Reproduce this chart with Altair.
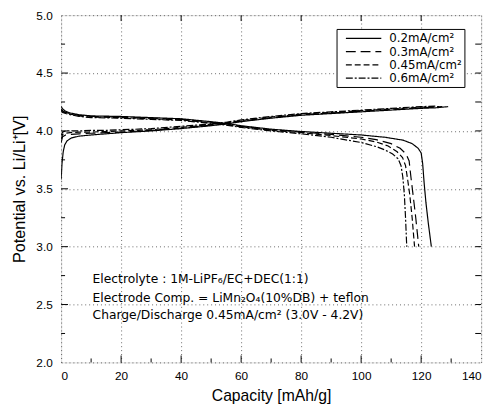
import altair as alt
import pandas as pd

# ---------------- data ----------------
rates = ["0.2mA/cm²", "0.3mA/cm²", "0.45mA/cm²", "0.6mA/cm²"]

chg_02_cap = [0, 0.3, 0.7, 1.2, 2, 3.5, 6, 10, 15, 20, 30, 40, 50, 55, 60, 70, 80, 90, 100, 110, 120, 125, 129]
chg_02_v = [3.58, 3.72, 3.82, 3.88, 3.915, 3.94, 3.955, 3.965, 3.975, 3.985, 4.0, 4.02, 4.045, 4.06, 4.08, 4.11, 4.135, 4.15, 4.165, 4.18, 4.195, 4.2, 4.21]

chg_03_cap = [0, 0.5, 1.5, 3, 6, 10, 15, 20, 30, 40, 50, 55, 60, 70, 80, 90, 100, 110, 120, 127]
chg_03_v = [3.9, 3.95, 3.965, 3.97, 3.975, 3.98, 3.985, 3.99, 4.005, 4.025, 4.05, 4.065, 4.085, 4.115, 4.14, 4.155, 4.17, 4.185, 4.2, 4.21]

chg_045_cap = [0, 0.5, 1.5, 3, 6, 10, 15, 20, 30, 40, 50, 55, 60, 70, 80, 90, 100, 110, 120, 126]
chg_045_v = [3.93, 3.97, 3.98, 3.985, 3.99, 3.99, 3.995, 4.0, 4.01, 4.03, 4.055, 4.07, 4.09, 4.12, 4.145, 4.16, 4.175, 4.19, 4.205, 4.21]

chg_06_cap = [0, 0.5, 1.5, 3, 6, 10, 15, 20, 30, 40, 50, 55, 60, 70, 80, 90, 100, 110, 120, 125]
chg_06_v = [3.96, 3.99, 4.0, 4.0, 4.0, 4.005, 4.005, 4.01, 4.02, 4.04, 4.06, 4.075, 4.095, 4.125, 4.15, 4.165, 4.18, 4.195, 4.21, 4.215]

dis_02_cap = [0, 0.5, 1.5, 3, 6, 10, 20, 30, 40, 50, 55, 60, 70, 80, 90, 100, 108, 114, 117, 119, 120, 120.5, 121, 121.6, 122.4, 123.4]
dis_02_v = [4.21, 4.19, 4.17, 4.155, 4.14, 4.13, 4.125, 4.115, 4.105, 4.08, 4.065, 4.045, 4.015, 3.995, 3.98, 3.965, 3.945, 3.92, 3.89, 3.85, 3.81, 3.72, 3.55, 3.38, 3.2, 3.0]

dis_03_cap = [0, 0.5, 1.5, 3, 6, 10, 20, 30, 40, 50, 55, 60, 70, 80, 90, 100, 105, 110, 113, 115, 116, 116.6, 117.3, 118.2, 119.2]
dis_03_v = [4.19, 4.175, 4.16, 4.15, 4.135, 4.125, 4.12, 4.11, 4.1, 4.075, 4.06, 4.04, 4.01, 3.99, 3.97, 3.945, 3.925, 3.89, 3.85, 3.8, 3.74, 3.6, 3.45, 3.25, 3.0]

dis_045_cap = [0, 0.5, 1.5, 3, 6, 10, 20, 30, 40, 50, 55, 60, 70, 80, 90, 100, 105, 109, 112, 113.8, 114.8, 115.5, 116.2, 117.0, 117.8]
dis_045_v = [4.18, 4.17, 4.155, 4.145, 4.13, 4.12, 4.115, 4.105, 4.095, 4.07, 4.055, 4.035, 4.005, 3.985, 3.96, 3.93, 3.905, 3.87, 3.82, 3.77, 3.7, 3.58, 3.45, 3.25, 3.0]

dis_06_cap = [0, 0.5, 1.5, 3, 6, 10, 20, 30, 40, 50, 55, 60, 70, 80, 90, 100, 105, 108, 110.5, 112.3, 113.3, 113.9, 114.4, 114.8, 115.2]
dis_06_v = [4.17, 4.16, 4.15, 4.14, 4.125, 4.115, 4.11, 4.1, 4.09, 4.065, 4.05, 4.03, 4.0, 3.975, 3.945, 3.9, 3.865, 3.835, 3.8, 3.76, 3.7, 3.6, 3.45, 3.25, 3.0]

x_labels = [0, 20, 40, 60, 80, 100, 120, 140]
y_labels = [2.0, 2.5, 3.0, 3.5, 4.0, 4.5, 5.0]
x_major_ticks = [20, 40, 60, 80, 100, 120]
x_minor_ticks = [10, 30, 50, 70, 90, 110, 130]
y_major_ticks = [2.5, 3.0, 3.5, 4.0, 4.5]
y_minor_ticks = [2.25, 2.75, 3.25, 3.75, 4.25, 4.75]

notes = [
    "Electrolyte : 1M-LiPF₆/EC+DEC(1:1)",
    "Electrode Comp. = LiMn₂O₄(10%DB) + teflon",
    "Charge/Discharge    0.45mA/cm² (3.0V - 4.2V)",
]

# ---------------- build table ----------------
series = [
    (rates[0], "charge", chg_02_cap, chg_02_v),
    (rates[1], "charge", chg_03_cap, chg_03_v),
    (rates[2], "charge", chg_045_cap, chg_045_v),
    (rates[3], "charge", chg_06_cap, chg_06_v),
    (rates[0], "discharge", dis_02_cap, dis_02_v),
    (rates[1], "discharge", dis_03_cap, dis_03_v),
    (rates[2], "discharge", dis_045_cap, dis_045_v),
    (rates[3], "discharge", dis_06_cap, dis_06_v),
]
rows = []
for rate, branch, caps, vs in series:
    for i, (c, v) in enumerate(zip(caps, vs)):
        rows.append({"rate": rate, "branch": branch, "cap": c, "v": v, "idx": i,
                     "key": rate + "-" + branch})
df = pd.DataFrame(rows)

W, H = 427, 353
FONT = "Liberation Sans"
NOTE_FONT = "DejaVu Sans"

xscale = alt.Scale(domain=[0, 140], nice=False, zero=False)
yscale = alt.Scale(domain=[2.0, 5.0], nice=False, zero=False)

lines = alt.Chart(df).mark_line(color="black", strokeWidth=1.2, clip=True).encode(
    x=alt.X("cap:Q", scale=xscale,
            axis=alt.Axis(values=x_labels, title="Capacity [mAh/g]", tickSize=0,
                          labelPadding=8, grid=True, gridDash=[1, 3], gridColor="black",
                          gridOpacity=0.6, domain=False, labelFontSize=12,
                          titleFontSize=16, titleFontWeight="normal", titlePadding=7,
                          labelFont=FONT, titleFont=FONT, labelColor="black",
                          titleColor="black")),
    y=alt.Y("v:Q", scale=yscale,
            axis=alt.Axis(values=y_labels, format=".1f", title="Potential vs. Li/Li⁺[V]",
                          tickSize=0, labelPadding=9, grid=True, gridDash=[1, 3],
                          gridColor="black", gridOpacity=0.6, domain=False,
                          labelFontSize=12, titleFontSize=16.5, titleFontWeight="normal",
                          titlePadding=9, labelFont=FONT, titleFont=FONT,
                          labelColor="black", titleColor="black")),
    strokeDash=alt.StrokeDash(
        "rate:N",
        scale=alt.Scale(domain=rates, range=[[1, 0], [10, 5], [6, 3], [7, 2, 2, 2]]),
        legend=alt.Legend(title=None, orient="none", legendX=280, legendY=14,
                          strokeColor="black", fillColor="white", padding=2.5,
                          symbolType="M0,0H6", symbolSize=144, symbolStrokeWidth=1.2,
                          symbolStrokeColor="black", symbolFillColor="transparent",
                          labelFont=NOTE_FONT, labelFontSize=12,
                          labelExpr="datum.label + '\u00a0\u00a0\u00a0\u00a0\u00a0\u00a0\u00a0\u00a0\u00a0'",
                          labelColor="black", labelOffset=37, rowPadding=0.5)),
    detail="key:N",
    order="idx:Q",
)

def xticks(vals, y0, y1):
    return alt.Chart(pd.DataFrame({"cap": vals})).mark_rule(color="black", strokeWidth=1).encode(
        x=alt.X("cap:Q", scale=xscale), y=alt.value(y0), y2=alt.value(y1))

def yticks(vals, x0, x1):
    return alt.Chart(pd.DataFrame({"v": vals})).mark_rule(color="black", strokeWidth=1).encode(
        y=alt.Y("v:Q", scale=yscale), x=alt.value(x0), x2=alt.value(x1))

ticks = [
    xticks(x_major_ticks, H, H - 7), xticks(x_minor_ticks, H, H - 4),
    xticks(x_major_ticks, 0, 6),
    yticks(y_major_ticks, 0, 7), yticks(y_minor_ticks, 0, 4),
    yticks(y_major_ticks + y_minor_ticks, W, W - 6),
]

note_y = [268, 288, 305]
texts = [
    alt.Chart(pd.DataFrame({"text": [t]})).mark_text(
        align="left", baseline="middle", fontSize=12.5, font=NOTE_FONT, color="black"
    ).encode(x=alt.value(32), y=alt.value(yy), text="text:N")
    for t, yy in zip(notes, note_y)
]

chart = alt.layer(lines, *ticks, *texts).properties(
    width=W, height=H,
    autosize=alt.AutoSizeParams(type="none"),
    padding={"left": 54, "top": 4, "right": 9, "bottom": 40},
).configure_view(stroke="black", strokeWidth=2).configure(background="white")

chart.save("out.html", embed_options={"renderer": "svg", "actions": False})
